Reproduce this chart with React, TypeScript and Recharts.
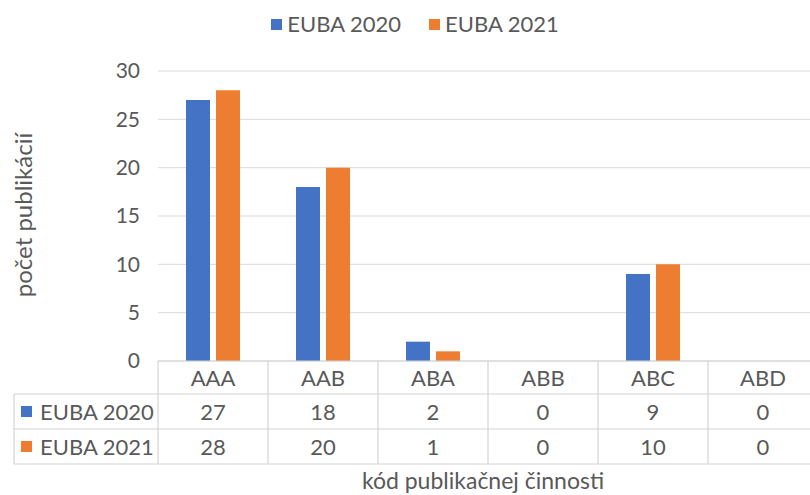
import { BarChart, Bar, XAxis, YAxis, CartesianGrid, Legend } from 'recharts';

const categories = ['AAA', 'AAB', 'ABA', 'ABB', 'ABC', 'ABD'];
const euba2020 = [27, 18, 2, 0, 9, 0];
const euba2021 = [28, 20, 1, 0, 10, 0];
const yTicks = [0, 5, 10, 15, 20, 25, 30];

const series = [
    { key: 'euba2020', name: 'EUBA 2020', color: '#4472C4', values: euba2020 },
    { key: 'euba2021', name: 'EUBA 2021', color: '#ED7D31', values: euba2021 },
];

const data = categories.map((c, i) => ({ code: c, euba2020: euba2020[i], euba2021: euba2021[i] }));

const TEXT = '#595959';
const LINE = '#d4d4d4';
// table geometry (plot bottom = 361)
const COL_W = 110;
const ROWS = [361, 394, 429, 464];
const TABLE_LEFT = 14;
const PLOT_LEFT = 158;
const LEGEND_H = 26;

function TableTick(props: any) {
    const { x, payload, index } = props;
    const left = x - COL_W / 2;
    const right = x + COL_W / 2;
    const centers = [(ROWS[0] + ROWS[1]) / 2, (ROWS[1] + ROWS[2]) / 2, (ROWS[2] + ROWS[3]) / 2];
    return (
        <g>
            {ROWS.map((ry) => (
                <line key={ry} x1={left} x2={right} y1={ry} y2={ry} stroke={LINE} strokeWidth={1.2} />
            ))}
            <line x1={left} x2={left} y1={ROWS[0]} y2={ROWS[3]} stroke={LINE} strokeWidth={1.2} />
            {index === categories.length - 1 && (
                <line x1={right} x2={right} y1={ROWS[0]} y2={ROWS[3]} stroke={LINE} strokeWidth={1.2} />
            )}
            <text x={x} y={centers[0]} textAnchor="middle" dominantBaseline="central" fill={TEXT} fontSize={22}>
                {payload.value}
            </text>
            {series.map((s, si) => (
                <text key={s.key} x={x} y={centers[si + 1]} textAnchor="middle" dominantBaseline="central" fill={TEXT} fontSize={22}>
                    {s.values[index]}
                </text>
            ))}
            {index === 0 && (
                <g>
                    {ROWS.slice(1).map((ry) => (
                        <line key={ry} x1={TABLE_LEFT} x2={PLOT_LEFT} y1={ry} y2={ry} stroke={LINE} strokeWidth={1.2} />
                    ))}
                    <line x1={TABLE_LEFT} x2={TABLE_LEFT} y1={ROWS[1]} y2={ROWS[3]} stroke={LINE} strokeWidth={1.2} />
                    {series.map((s, si) => (
                        <g key={s.key}>
                            <rect x={21} y={centers[si + 1] - 5.5} width={11} height={11} fill={s.color} />
                            <text x={40} y={centers[si + 1]} dominantBaseline="central" fill={TEXT} fontSize={22}>
                                {s.name}
                            </text>
                        </g>
                    ))}
                </g>
            )}
        </g>
    );
}

function TopLegend() {
    return (
        <div style={{ display: 'flex', justifyContent: 'center', alignItems: 'center', gap: 28, height: LEGEND_H }}>
            {series.map((s) => (
                <div key={s.key} style={{ display: 'flex', alignItems: 'center', gap: 5 }}>
                    <span style={{ width: 11, height: 11, background: s.color, display: 'inline-block' }} />
                    <span style={{ color: TEXT, fontSize: 22, lineHeight: `${LEGEND_H}px` }}>{s.name}</span>
                </div>
            ))}
        </div>
    );
}

export default function App() {
    return (
        <div style={{ position: 'absolute', left: 0, top: 0, width: 810, height: 495, overflow: 'hidden', background: '#fff', fontFamily: 'Lato, sans-serif' }}>
            <BarChart
                width={818}
                height={495}
                data={data}
                margin={{ top: 71 - LEGEND_H, right: 0, bottom: 0, left: 0 }}
                barCategoryGap="25%"
                barGap={6}
            >
                <CartesianGrid vertical={false} stroke="#d9d9d9" />
                <Legend verticalAlign="top" height={LEGEND_H} content={<TopLegend />} wrapperStyle={{ top: 11, left: 0, width: 830 }} />
                <YAxis
                    width={158}
                    domain={[0, 30]}
                    ticks={yTicks}
                    axisLine={false}
                    tickLine={false}
                    tickSize={0}
                    tickMargin={18}
                    tick={{ fill: TEXT, fontSize: 21 }}
                    label={() => (
                        <text
                            x={22}
                            y={215}
                            transform="rotate(-90 22 215)"
                            textAnchor="middle"
                            dominantBaseline="central"
                            fill={TEXT}
                            fontSize={24}
                        >
                            počet publikácií
                        </text>
                    )}
                />
                <XAxis
                    dataKey="code"
                    height={134}
                    axisLine={false}
                    tickLine={false}
                    interval={0}
                    tick={<TableTick />}
                    label={({ viewBox }: any) => (
                        <text x={483} y={viewBox.y + 119} textAnchor="middle" dominantBaseline="central" fill={TEXT} fontSize={23}>
                            kód publikačnej činnosti
                        </text>
                    )}
                />
                {series.map((s) => (
                    <Bar key={s.key} dataKey={s.key} name={s.name} fill={s.color} barSize={24} isAnimationActive={false} />
                ))}
            </BarChart>
        </div>
    );
}
